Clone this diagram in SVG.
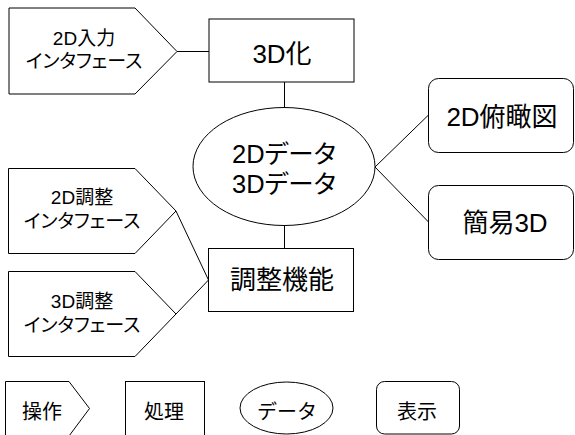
<svg xmlns="http://www.w3.org/2000/svg" width="575" height="435" viewBox="0 0 575 435">
<style>
.s{fill:#fff;stroke:#000;stroke-width:1}
.c{stroke:#000;stroke-width:1;fill:none}
text{font-family:"Liberation Sans","Noto Sans CJK JP",sans-serif;fill:#000;text-anchor:middle}
.big{font-size:26px}
.mid{font-size:25.5px;font-feature-settings:"palt" 1}
.sm{font-size:19px;font-feature-settings:"palt" 1}
.lg{font-size:20px}
</style>
<rect width="575" height="435" fill="#fff"/>
<g id="connectors">
<line class="c" x1="177" y1="51.5" x2="209" y2="51.5"/>
<line class="c" x1="284.5" y1="82" x2="284.5" y2="107.5"/>
<line class="c" x1="284.5" y1="225.5" x2="284.5" y2="248.5"/>
<line class="c" x1="375" y1="167" x2="428.5" y2="115"/>
<line class="c" x1="375" y1="167" x2="428.5" y2="222"/>
<line class="c" x1="176" y1="211" x2="208.5" y2="280"/>
<line class="c" x1="176" y1="314" x2="208.5" y2="280"/>
</g>
<g id="if2d">
<polygon class="s" points="9,8 135,8 177,51.5 135,94 9,94"/>
<text class="sm" x="84" y="45">2D入力</text>
<text class="sm" x="84" y="68">インタフェース</text>
</g>
<g id="to3d">
<rect class="s" x="209" y="19" width="145" height="63"/>
<text class="big" x="282" y="63">3D化</text>
</g>
<g id="data">
<ellipse class="s" cx="284" cy="166.5" rx="91" ry="59"/>
<text class="mid" x="284" y="163">2Dデータ</text>
<text class="mid" x="284" y="193">3Dデータ</text>
</g>
<g id="view2d">
<rect class="s" x="428.5" y="78.5" width="145" height="74" rx="10"/>
<text class="big" x="502" y="126">2D俯瞰図</text>
</g>
<g id="simple3d">
<rect class="s" x="428.5" y="185.5" width="145" height="74" rx="10"/>
<text class="big" x="505" y="232">簡易3D</text>
</g>
<g id="if2dadj">
<polygon class="s" points="8.5,168.5 135,168.5 176,211 135,253.5 8.5,253.5"/>
<text class="sm" x="82" y="204">2D調整</text>
<text class="sm" x="82" y="228">インタフェース</text>
</g>
<g id="if3dadj">
<polygon class="s" points="8.5,271.5 135,271.5 176,314 135,356.5 8.5,356.5"/>
<text class="sm" x="82" y="308">3D調整</text>
<text class="sm" x="82" y="332">インタフェース</text>
</g>
<g id="adjust">
<rect class="s" x="208.5" y="248.5" width="145" height="63"/>
<text class="big" x="282" y="289">調整機能</text>
</g>
<g id="legend-op">
<polygon class="s" points="5.5,381.5 69,381.5 89.5,408.5 69,436 5.5,436"/>
<text class="lg" x="42" y="419">操作</text>
</g>
<g id="legend-proc">
<rect class="s" x="125.5" y="381.5" width="79" height="56"/>
<text class="lg" x="164" y="419">処理</text>
</g>
<g id="legend-data">
<ellipse class="s" cx="286.5" cy="408" rx="46.5" ry="26"/>
<text class="lg" x="287" y="419">データ</text>
</g>
<g id="legend-view">
<rect class="s" x="376.5" y="381.5" width="83" height="52.5" rx="8"/>
<text class="lg" x="417" y="419">表示</text>
</g>
</svg>
